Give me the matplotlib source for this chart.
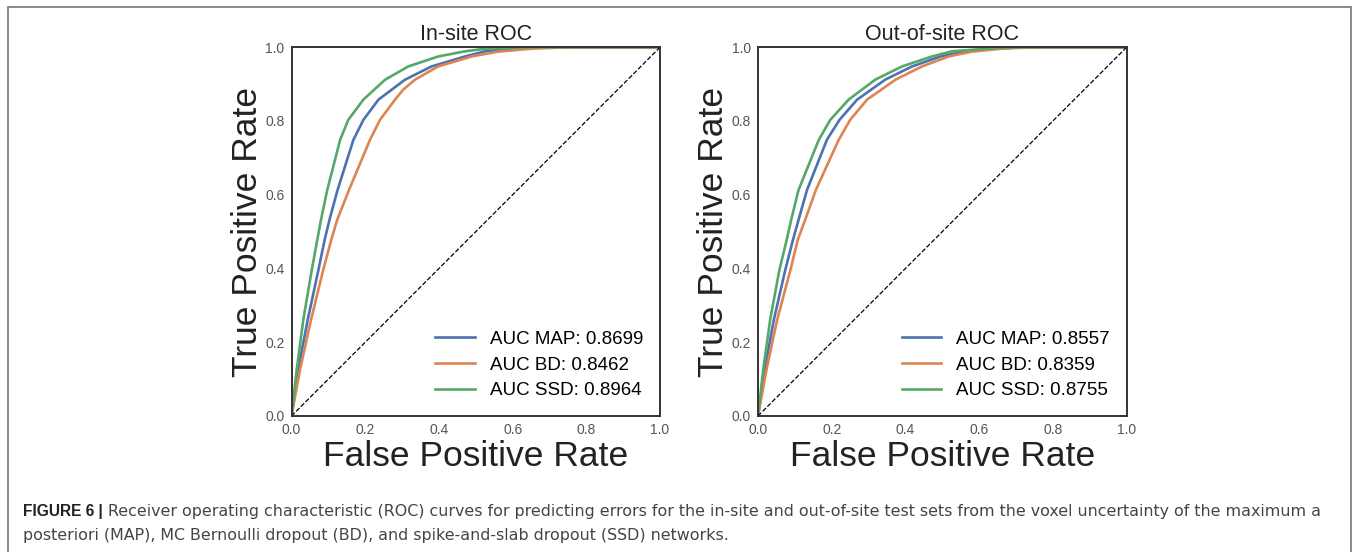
import matplotlib
matplotlib.use("Agg")
import matplotlib.pyplot as plt
from matplotlib.patches import Rectangle

plt.rcParams['font.family'] = ['Liberation Sans', 'DejaVu Sans']

# ROC points (fpr, tpr)
in_map_fpr = [0, 0.018, 0.044, 0.073, 0.090, 0.103, 0.125, 0.168, 0.195, 0.236, 0.308, 0.380, 0.471, 0.525, 0.60, 0.70, 1.0]
in_map_tpr = [0, 0.125, 0.261, 0.396, 0.478, 0.532, 0.613, 0.749, 0.803, 0.858, 0.912, 0.948, 0.975, 0.989, 0.996, 1.0, 1.0]
in_bd_fpr = [0, 0.023, 0.053, 0.086, 0.108, 0.124, 0.156, 0.213, 0.240, 0.281, 0.303, 0.335, 0.398, 0.489, 0.56, 0.65, 0.75, 1.0]
in_bd_tpr = [0, 0.125, 0.261, 0.396, 0.478, 0.532, 0.613, 0.749, 0.803, 0.858, 0.885, 0.912, 0.948, 0.975, 0.988, 0.996, 1.0, 1.0]
in_ssd_fpr = [0, 0.014, 0.032, 0.055, 0.070, 0.080, 0.097, 0.132, 0.154, 0.195, 0.254, 0.317, 0.398, 0.471, 0.525, 0.65, 1.0]
in_ssd_tpr = [0, 0.125, 0.261, 0.396, 0.478, 0.532, 0.613, 0.749, 0.803, 0.858, 0.912, 0.948, 0.975, 0.989, 0.996, 1.0, 1.0]

out_map_fpr = [0, 0.018, 0.043, 0.074, 0.095, 0.110, 0.133, 0.187, 0.221, 0.269, 0.345, 0.418, 0.495, 0.56, 0.64, 0.72, 1.0]
out_map_tpr = [0, 0.125, 0.261, 0.396, 0.478, 0.532, 0.613, 0.749, 0.803, 0.858, 0.912, 0.948, 0.975, 0.989, 0.996, 1.0, 1.0]
out_bd_fpr = [0, 0.023, 0.052, 0.088, 0.108, 0.128, 0.157, 0.219, 0.250, 0.296, 0.373, 0.445, 0.517, 0.58, 0.66, 0.75, 1.0]
out_bd_tpr = [0, 0.125, 0.261, 0.396, 0.478, 0.532, 0.613, 0.749, 0.803, 0.858, 0.912, 0.948, 0.975, 0.988, 0.996, 1.0, 1.0]
out_ssd_fpr = [0, 0.014, 0.033, 0.058, 0.078, 0.090, 0.110, 0.165, 0.196, 0.246, 0.318, 0.391, 0.472, 0.526, 0.62, 0.70, 1.0]
out_ssd_tpr = [0, 0.125, 0.261, 0.396, 0.478, 0.532, 0.613, 0.749, 0.803, 0.858, 0.912, 0.948, 0.975, 0.989, 0.996, 1.0, 1.0]

in_auc = {"MAP": "0.8699", "BD": "0.8462", "SSD": "0.8964"}
out_auc = {"MAP": "0.8557", "BD": "0.8359", "SSD": "0.8755"}

ticks = [0.0, 0.2, 0.4, 0.6, 0.8, 1.0]
colors = {"MAP": "#4C72B0", "BD": "#DD8452", "SSD": "#55A868"}

fig = plt.figure(figsize=(13.58, 5.52), dpi=100)
fig.patches.append(Rectangle((8 / 1358, -0.1), 1343 / 1358, 1.1 - 7 / 552,
                             transform=fig.transFigure, fill=False,
                             edgecolor="#777777", linewidth=1.2))


def draw_panel(left, title, curves, auc):
    ax = fig.add_axes([left, 0.2464, 0.2714, 0.668])
    for name, (fpr, tpr) in curves.items():
        ax.plot(fpr, tpr, color=colors[name], lw=1.9,
                label="AUC %s: %s" % (name, auc[name]))
    ax.plot([0, 1], [0, 1], "k--", lw=0.9)
    ax.set_xlim(0, 1)
    ax.set_ylim(0, 1)
    ax.set_xticks(ticks)
    ax.set_yticks(ticks)
    ax.tick_params(length=0, labelsize=10, labelcolor="#555555", pad=5)
    for s in ax.spines.values():
        s.set_color("#333333")
        s.set_linewidth(1.4)
    ax.set_title(title, fontsize=15.5, color="#222222", pad=5)
    ax.set_xlabel("False Positive Rate", fontsize=25.5, color="#222222")
    ax.set_ylabel("True Positive Rate", fontsize=25.5, color="#222222")
    ax.xaxis.set_label_coords(0.5, -0.065)
    ax.yaxis.set_label_coords(-0.075, 0.5)
    ax.legend(loc="lower right", frameon=False, fontsize=13.5,
              handlelength=2.1, handletextpad=0.8, labelspacing=0.45)
    return ax


draw_panel(291.5 / 1358, "In-site ROC",
           {"MAP": (in_map_fpr, in_map_tpr), "BD": (in_bd_fpr, in_bd_tpr),
            "SSD": (in_ssd_fpr, in_ssd_tpr)}, in_auc)
draw_panel(758 / 1358, "Out-of-site ROC",
           {"MAP": (out_map_fpr, out_map_tpr), "BD": (out_bd_fpr, out_bd_tpr),
            "SSD": (out_ssd_fpr, out_ssd_tpr)}, out_auc)

# caption
cap_x = 23 / 1358
bold = fig.text(cap_x, 1 - 516 / 552, "FIGURE 6 |", fontsize=11.2,
                fontweight="bold", color="#222222", va="baseline")
r = fig.canvas.get_renderer()
bb = bold.get_window_extent(renderer=r)
fig.text((bb.x1 + 5) / 1358, 1 - 516 / 552,
         "Receiver operating characteristic (ROC) curves for predicting errors for the in-site and "
         "out-of-site test sets from the voxel uncertainty of the maximum a",
         fontsize=11.4, color="#444444", va="baseline", family="DejaVu Sans")
fig.text(cap_x, 1 - 540 / 552,
         "posteriori (MAP), MC Bernoulli dropout (BD), and spike-and-slab dropout (SSD) networks.",
         fontsize=11.4, color="#444444", va="baseline", family="DejaVu Sans")

fig.savefig("out.png", dpi=100)
